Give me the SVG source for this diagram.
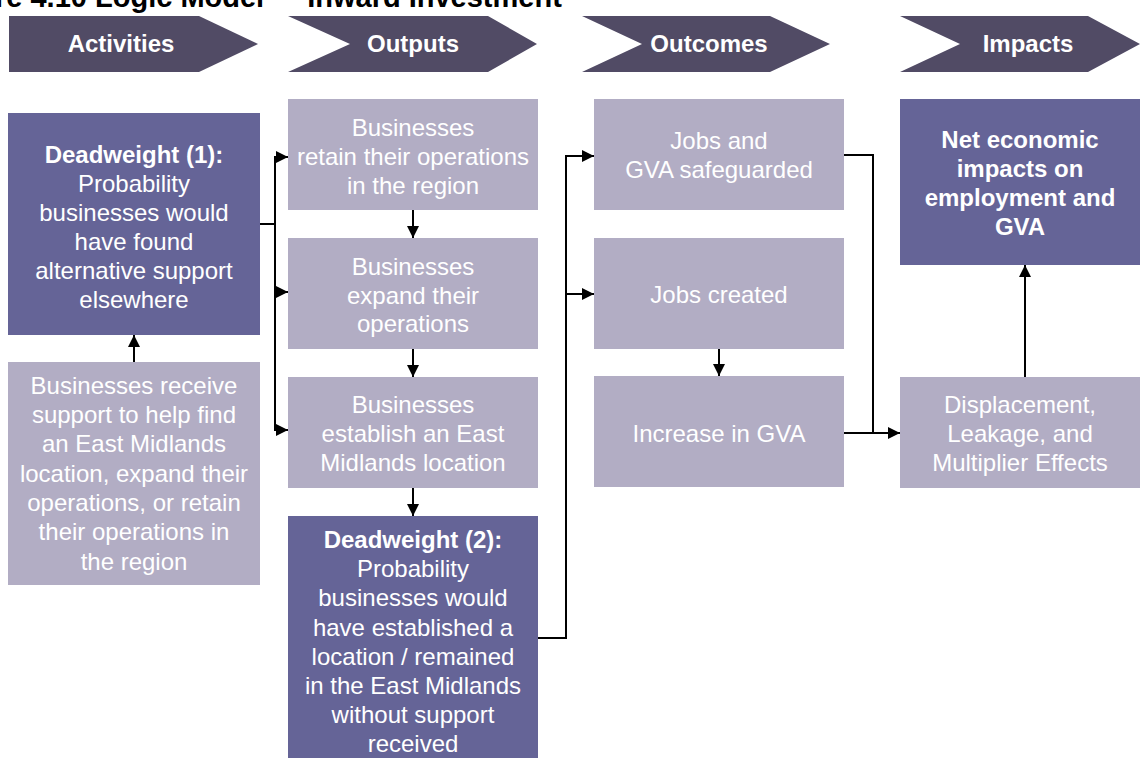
<svg xmlns="http://www.w3.org/2000/svg" width="1140" height="758" viewBox="0 0 1140 758">
<defs>
<style>
.hdr{fill:#514B65}
.dark{fill:#656497}
.light{fill:#B2ADC4}
text{font-family:"Liberation Sans",Arial,sans-serif;font-size:24px;fill:#FFFFFF;text-anchor:middle}
.b{font-weight:bold}
.title{fill:#000000;text-anchor:start;font-weight:bold;font-size:29px}
.con{fill:none;stroke:#000000;stroke-width:2}
</style>
<marker id="arr" markerUnits="userSpaceOnUse" markerWidth="13" markerHeight="13" refX="12" refY="6" orient="auto">
<path d="M0,0 L12,6 L0,12 z" fill="#000000"/>
</marker>
</defs>
<rect width="1140" height="758" fill="#FFFFFF"/>
<text class="title" y="7"><tspan x="-5">re 4.10</tspan><tspan x="95">Logic Model</tspan><tspan x="283">– Inward Investment</tspan></text>

<g id="hdr-activities"><polygon class="hdr" points="9,16 199,16 258,44 199,72 9,72"/><text class="b" x="121" y="52">Activities</text></g>
<g id="hdr-outputs"><polygon class="hdr" points="288,16 488,16 537,44 488,72 288,72 350,44"/><text class="b" x="413" y="52">Outputs</text></g>
<g id="hdr-outcomes"><polygon class="hdr" points="582,16 770,16 830,44 770,72 582,72 642,44"/><text class="b" x="709" y="52">Outcomes</text></g>
<g id="hdr-impacts"><polygon class="hdr" points="900,16 1088,16 1140,44 1088,72 900,72 960,44"/><text class="b" x="1028" y="52">Impacts</text></g>

<g id="deadweight1"><rect class="dark" x="8" y="113" width="252" height="222"/>
<text x="134"><tspan class="b" x="134" y="163">Deadweight (1):</tspan><tspan x="134" y="192">Probability</tspan><tspan x="134" y="221">businesses would</tspan><tspan x="134" y="250">have found</tspan><tspan x="134" y="279">alternative support</tspan><tspan x="134" y="308">elsewhere</tspan></text></g>

<g id="activity"><rect class="light" x="8" y="362" width="252" height="223"/>
<text><tspan x="134" y="394">Businesses receive</tspan><tspan x="134" y="423">support to help find</tspan><tspan x="134" y="452">an East Midlands</tspan><tspan x="134" y="482">location, expand their</tspan><tspan x="134" y="511">operations, or retain</tspan><tspan x="134" y="540">their operations in</tspan><tspan x="134" y="570">the region</tspan></text></g>

<g id="out-retain"><rect class="light" x="288" y="99" width="250" height="111"/>
<text><tspan x="413" y="136">Businesses</tspan><tspan x="413" y="165">retain their operations</tspan><tspan x="413" y="194">in the region</tspan></text></g>
<g id="out-expand"><rect class="light" x="288" y="238" width="250" height="111"/>
<text><tspan x="413" y="275">Businesses</tspan><tspan x="413" y="304">expand their</tspan><tspan x="413" y="332">operations</tspan></text></g>
<g id="out-establish"><rect class="light" x="288" y="377" width="250" height="111"/>
<text><tspan x="413" y="413">Businesses</tspan><tspan x="413" y="442">establish an East</tspan><tspan x="413" y="471">Midlands location</tspan></text></g>
<g id="deadweight2"><rect class="dark" x="288" y="516" width="250" height="242"/>
<text><tspan class="b" x="413" y="548">Deadweight (2):</tspan><tspan x="413" y="577">Probability</tspan><tspan x="413" y="606">businesses would</tspan><tspan x="413" y="636">have established a</tspan><tspan x="413" y="665">location / remained</tspan><tspan x="413" y="694">in the East Midlands</tspan><tspan x="413" y="723">without support</tspan><tspan x="413" y="752">received</tspan></text></g>

<g id="oc-safeguarded"><rect class="light" x="594" y="99" width="250" height="111"/>
<text><tspan x="719" y="149">Jobs and</tspan><tspan x="719" y="178">GVA safeguarded</tspan></text></g>
<g id="oc-created"><rect class="light" x="594" y="238" width="250" height="111"/>
<text x="719" y="303">Jobs created</text></g>
<g id="oc-gva"><rect class="light" x="594" y="376" width="250" height="111"/>
<text x="719" y="442">Increase in GVA</text></g>

<g id="im-net"><rect class="dark" x="900" y="99" width="240" height="166"/>
<text class="b"><tspan x="1020" y="148">Net economic</tspan><tspan x="1020" y="177">impacts on</tspan><tspan x="1020" y="206">employment and</tspan><tspan x="1020" y="235">GVA</tspan></text></g>
<g id="im-displacement"><rect class="light" x="900" y="377" width="240" height="111"/>
<text><tspan x="1020" y="413">Displacement,</tspan><tspan x="1020" y="442">Leakage, and</tspan><tspan x="1020" y="471">Multiplier Effects</tspan></text></g>

<g id="connectors">
<path class="con" d="M260,224 H275 V157 H288" marker-end="url(#arr)"/>
<path class="con" d="M275,224 V292 H288" marker-end="url(#arr)"/>
<path class="con" d="M275,292 V430 H288" marker-end="url(#arr)"/>
<path class="con" d="M134,362 V335" marker-end="url(#arr)"/>
<path class="con" d="M413,210 V238" marker-end="url(#arr)"/>
<path class="con" d="M413,349 V377" marker-end="url(#arr)"/>
<path class="con" d="M413,488 V516" marker-end="url(#arr)"/>
<path class="con" d="M538,638 H566 V156 H594" marker-end="url(#arr)"/>
<path class="con" d="M566,294 H594" marker-end="url(#arr)"/>
<path class="con" d="M719,349 V376" marker-end="url(#arr)"/>
<path class="con" d="M844,155 H873 V433"/>
<path class="con" d="M844,433 H900" marker-end="url(#arr)"/>
<path class="con" d="M1025,377 V265" marker-end="url(#arr)"/>
</g>
</svg>
